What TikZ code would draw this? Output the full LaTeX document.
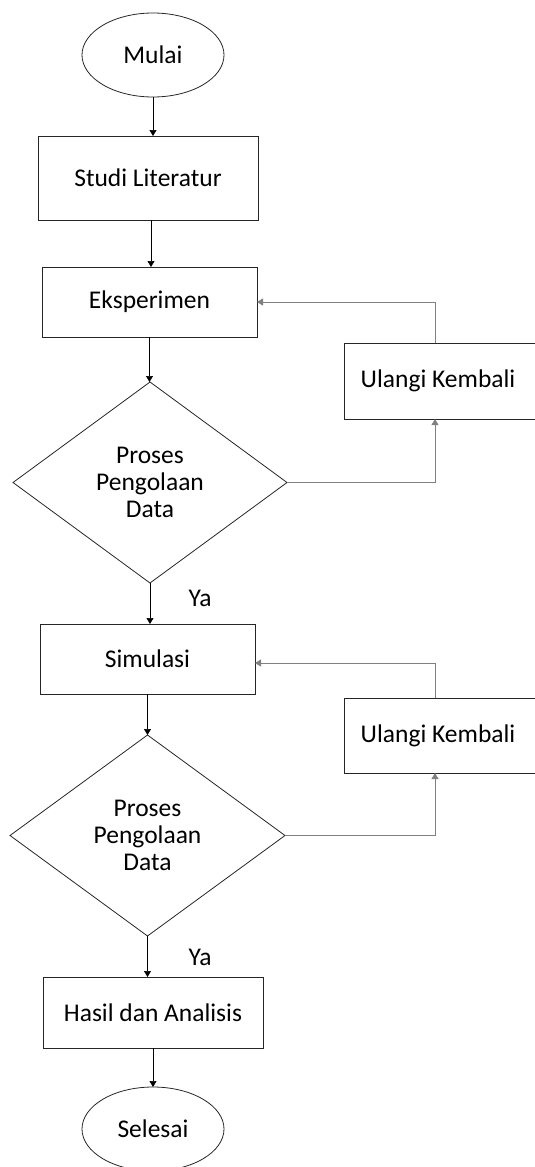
\documentclass[tikz,border=0pt]{standalone}
\usepackage{fontspec}
\setmainfont{Carlito}
\usetikzlibrary{shapes.geometric,arrows.meta}
\begin{document}
\begin{tikzpicture}[x=1pt,y=-1pt,
  base/.style={draw=black!85, line width=0.8pt, inner sep=0pt, outer sep=0pt, align=center,
    font=\fontsize{25.5}{27}\selectfont},
  proc/.style={base, rectangle},
  term/.style={base, ellipse, minimum width=142pt, minimum height=84pt},
  deci/.style={base, diamond},
  flow/.style={draw=black, line width=0.7pt, -{Triangle[length=6pt,width=7pt]}},
  back/.style={draw=black!50, line width=0.8pt, -{Triangle[length=6pt,width=7pt]}},
  lbl/.style={font=\fontsize{25.5}{27}\selectfont, inner sep=0pt}]
\useasboundingbox (0,0) rectangle (535,1167);
\clip (0,0) rectangle (535,1167);
\node[term] (mulai) at (153,55) {Mulai};
\node[proc, minimum width=220pt, minimum height=84pt] (studi) at (148,178) {Studi Literatur};
\node[proc, minimum width=215pt, minimum height=70pt] (eks) at (149.5,302) {Eksperimen};
\node[deci, minimum width=274pt, minimum height=201pt] (d1) at (150,482.5) {Proses\\Pengolaan\\Data};
\node[proc, minimum width=194pt, minimum height=76pt, anchor=west] (ul1) at (344,381) {Ulangi Kembali\hspace*{6pt}};
\node[lbl] (ya1) at (200,598) {Ya};
\node[proc, minimum width=215pt, minimum height=70pt] (sim) at (147.5,659) {Simulasi};
\node[deci, minimum width=275pt, minimum height=201pt] (d2) at (147.5,835.5) {Proses\\Pengolaan\\Data};
\node[proc, minimum width=194pt, minimum height=75pt, anchor=west] (ul2) at (344,735.5) {Ulangi Kembali\hspace*{6pt}};
\node[lbl] (ya2) at (200,957) {Ya};
\node[proc, minimum width=220pt, minimum height=71pt] (hasil) at (153,1012.5) {Hasil dan Analisis};
\node[term] (selesai) at (153,1129) {Selesai};

\draw[flow] (mulai.south) -- (mulai.south |- studi.north);
\draw[flow] ([xshift=3pt]studi.south) -- ([xshift=3pt]studi.south |- eks.north);
\draw[flow] (eks.south) -- (eks.south |- d1.north);
\draw[flow] (d1.south) -- (d1.south |- sim.north);
\draw[flow] (sim.south) -- (sim.south |- d2.north);
\draw[flow] (d2.south) -- (d2.south |- hasil.north);
\draw[flow] (hasil.south) -- (hasil.south |- selesai.north);

\draw[back] (d1.east) -| ([xshift=-6pt]ul1.south);
\draw[back] ([xshift=-6pt]ul1.north) |- (eks.east);
\draw[back] (d2.east) -| ([xshift=-6pt]ul2.south);
\draw[back] ([xshift=-6pt]ul2.north) |- ([yshift=-4pt]sim.east);
\end{tikzpicture}
\end{document}
